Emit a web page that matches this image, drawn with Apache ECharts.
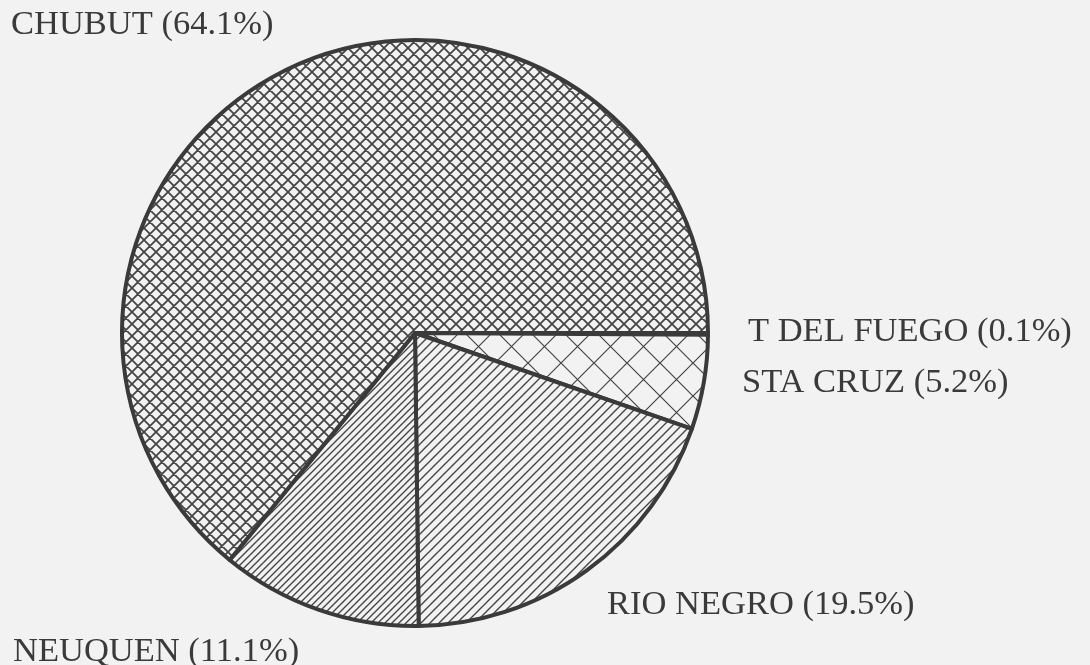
<!DOCTYPE html>
<html>
<head>
<meta charset="utf-8">
<script src="https://cdn.jsdelivr.net/npm/echarts@6/dist/echarts.min.js"></script>
<style>
html,body{margin:0;padding:0;background:#f2f2f2;}
#chart{width:1090px;height:665px;}
</style>
</head>
<body>
<div id="chart"></div>
<script>
// Data
var categories = ['T DEL FUEGO', 'STA CRUZ', 'RIO NEGRO', 'NEUQUEN', 'CHUBUT'];
var shares = [0.1, 5.2, 19.5, 11.1, 64.1];

function hatch(period, lw, slash, back, color) {
  var c = document.createElement('canvas');
  c.width = period; c.height = period;
  var g = c.getContext('2d');
  g.fillStyle = '#f2f2f2';
  g.fillRect(0, 0, period, period);
  g.strokeStyle = color;
  g.lineWidth = lw;
  g.lineCap = 'square';
  var P = period;
  g.beginPath();
  if (slash) {
    g.moveTo(-1, P + 1); g.lineTo(P + 1, -1);
    g.moveTo(-1, 1); g.lineTo(1, -1);
    g.moveTo(P - 1, P + 1); g.lineTo(P + 1, P - 1);
  }
  if (back) {
    g.moveTo(-1, -1); g.lineTo(P + 1, P + 1);
    g.moveTo(P - 1, -1); g.lineTo(P + 1, 1);
    g.moveTo(-1, P - 1); g.lineTo(1, P + 1);
  }
  g.stroke();
  return c;
}

var patterns = [
  hatch(12, 1.8, true, true, '#454545'),   // T DEL FUEGO
  hatch(33, 1.2, true, true, '#454545'),   // STA CRUZ
  hatch(9, 1.4, true, false, '#454545'),   // RIO NEGRO
  hatch(7, 1.4, true, false, '#454545'),   // NEUQUEN
  hatch(12, 1.8, true, true, '#454545')    // CHUBUT
];

var labelPos = [
  [748, 332], [742, 383], [607, 605], [13, 652], [11, 25]
];

var data = categories.map(function (name, i) {
  return {
    name: name,
    value: shares[i],
    itemStyle: { color: { image: patterns[i], repeat: 'repeat' } }
  };
});

var chart = echarts.init(document.getElementById('chart'), null, { renderer: 'canvas' });
chart.setOption({
  backgroundColor: '#f2f2f2',
  animation: false,
  series: [{
    type: 'pie',
    center: [415, 333],
    radius: 293,
    startAngle: 0,
    clockwise: true,
    minAngle: 0,
    avoidLabelOverlap: false,
    silent: true,
    data: data,
    itemStyle: { borderColor: '#3a3a3a', borderWidth: 4 },
    label: {
      show: true,
      position: 'outside',
      formatter: function (p) { return p.name + ' (' + p.value + '%)'; },
      fontFamily: 'Liberation Serif',
      fontSize: 34.5,
      color: '#3a3a3a'
    },
    labelLine: { show: false },
    labelLayout: function (p) {
      var pos = labelPos[p.dataIndex];
      return { x: pos[0], y: pos[1], align: 'left', verticalAlign: 'middle', hideOverlap: false };
    },
    emphasis: { disabled: true }
  }]
});
</script>
</body>
</html>
